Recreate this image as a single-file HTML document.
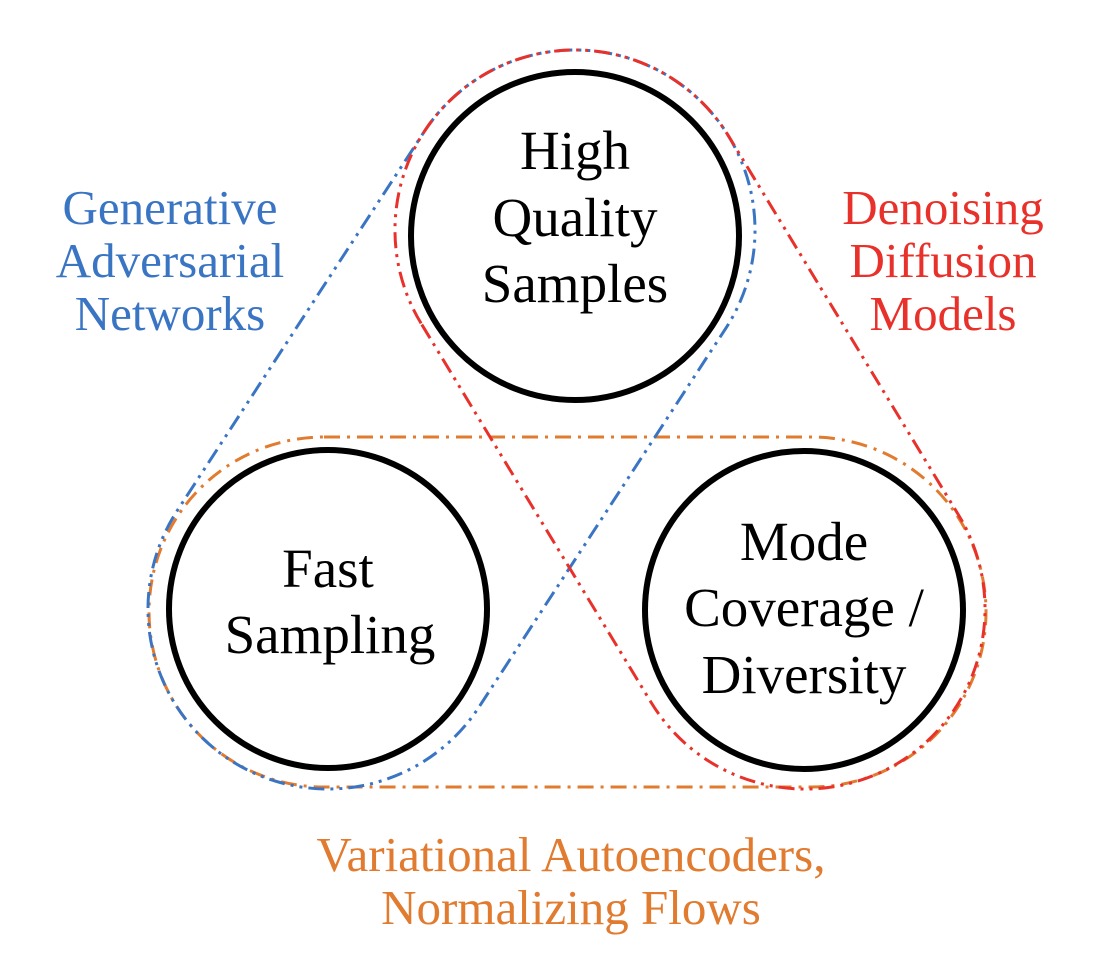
<!DOCTYPE html>
<html><head><meta charset="utf-8"><style>
html,body{margin:0;padding:0;background:#fff;}
svg{display:block;}
text{font-family:"Liberation Serif",serif;}
</style></head><body>
<svg width="1094" height="972" viewBox="0 0 1094 972" xmlns="http://www.w3.org/2000/svg">
<rect x="149" y="437" width="837" height="350" rx="175" ry="175" fill="none" stroke="#e07b2f" stroke-width="3" stroke-dasharray="16 7 3 7"/>
<path d="M 424.2 131.7 A 180 180 0 0 1 725.8 328.3 L 478.8 707.3 A 180 180 0 0 1 177.2 510.7 Z" fill="none" stroke="#3a75c4" stroke-width="3" stroke-dasharray="16 6 3 6 3 6"/>
<path d="M 421.1 323.4 A 180 180 0 0 1 728.9 136.6 L 958.9 515.6 A 180 180 0 0 1 651.1 702.4 Z" fill="none" stroke="#e8312a" stroke-width="3" stroke-dasharray="16 6 3 6 3 6"/>
<circle cx="575" cy="236" r="164" fill="none" stroke="#000" stroke-width="6"/>
<circle cx="328" cy="609" r="159" fill="none" stroke="#000" stroke-width="6"/>
<circle cx="804" cy="610" r="159" fill="none" stroke="#000" stroke-width="6"/>
<g font-size="55" text-anchor="middle" fill="#000">
<text x="575" y="169">High</text>
<text x="575" y="236">Quality</text>
<text x="575" y="302">Samples</text>
<text x="328" y="587">Fast</text>
<text x="330" y="653">Sampling</text>
<text x="804" y="560">Mode</text>
<text x="804" y="626">Coverage /</text>
<text x="804" y="693">Diversity</text>
</g>
<g font-size="49" text-anchor="middle">
<text x="170" y="224" fill="#3a75c4">Generative</text>
<text x="170" y="277" fill="#3a75c4">Adversarial</text>
<text x="170" y="330" fill="#3a75c4">Networks</text>
<text x="943" y="224" fill="#e8312a">Denoising</text>
<text x="943" y="277" fill="#e8312a">Diffusion</text>
<text x="943" y="330" fill="#e8312a">Models</text>
<text x="571" y="871" fill="#e07b2f">Variational Autoencoders,</text>
<text x="571" y="924" fill="#e07b2f">Normalizing Flows</text>
</g>
</svg>
</body></html>
